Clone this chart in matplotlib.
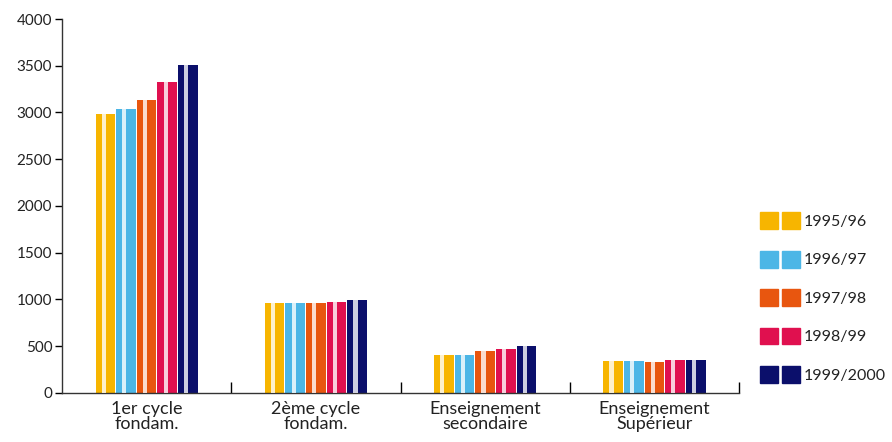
import numpy as np
import matplotlib
matplotlib.use('Agg')
import matplotlib.pyplot as plt
from matplotlib.patches import Patch
from matplotlib.legend_handler import HandlerTuple

plt.rcParams['font.family'] = ['Lato', 'DejaVu Sans']

# categories and series
categories = ['1er cycle\nfondam.', '2ème cycle\nfondam.',
              'Enseignement\nsecondaire', 'Enseignement\nSupérieur']
years = ['1995/96', '1996/97', '1997/98', '1998/99', '1999/2000']
values = {
    '1995/96':   [2980, 960, 405, 345],
    '1996/97':   [3040, 960, 405, 345],
    '1997/98':   [3130, 965, 450, 330],
    '1998/99':   [3330, 970, 470, 352],
    '1999/2000': [3505, 995, 505, 352],
}
colors = ['#f7b500', '#4cb6e6', '#e8560f', '#e0104f', '#0b0f6b']
yticks = [0, 500, 1000, 1500, 2000, 2500, 3000, 3500, 4000]

fig = plt.figure(figsize=(8.92, 4.42), dpi=100)
ax = fig.add_axes([0.0695, 0.111, 0.759, 0.846])

x = np.arange(len(categories))
n = len(years)
w = 0.122
for i, (yr, c) in enumerate(zip(years, colors)):
    pos = x + (i - (n - 1) / 2) * w
    ax.bar(pos, values[yr], width=w * 0.95, color=c, edgecolor='none', zorder=2)
    # cylinder highlight stripe
    ax.bar(pos - w * 0.08, values[yr], width=w * 0.2, color='white',
           alpha=0.8, edgecolor='none', zorder=3)

ax.set_xlim(-0.5, 3.5)
ax.set_ylim(0, 4000)
ax.set_yticks(yticks)
ax.set_yticklabels([str(v) for v in yticks], fontsize=11, color='#222222')
ax.set_xticks(x)
ax.set_xticklabels(categories, fontsize=13, color='#222222', linespacing=0.9)
ax.tick_params(axis='x', length=0, pad=6)
ax.set_xticks([0.5, 1.5, 2.5, 3.5], minor=True)
ax.tick_params(axis='x', which='minor', direction='in', length=8, width=1)
ax.tick_params(axis='y', direction='out', length=5, width=1, pad=2)

for s in ['top', 'right']:
    ax.spines[s].set_visible(False)
for s in ['left', 'bottom']:
    ax.spines[s].set_color('#333333')
    ax.spines[s].set_linewidth(1)

handles = [(Patch(color=c), Patch(color=c)) for c in colors]
fig.legend(handles, years, loc='upper left', bbox_to_anchor=(0.852, 0.52),
           frameon=False, fontsize=11.5, handlelength=2.5, handleheight=1.25,
           labelspacing=1.35, handletextpad=0.25, borderpad=0, borderaxespad=0,
           handler_map={tuple: HandlerTuple(ndivide=2, pad=0.2)},
           labelcolor='#222222')

fig.savefig('out.png', dpi=100)
